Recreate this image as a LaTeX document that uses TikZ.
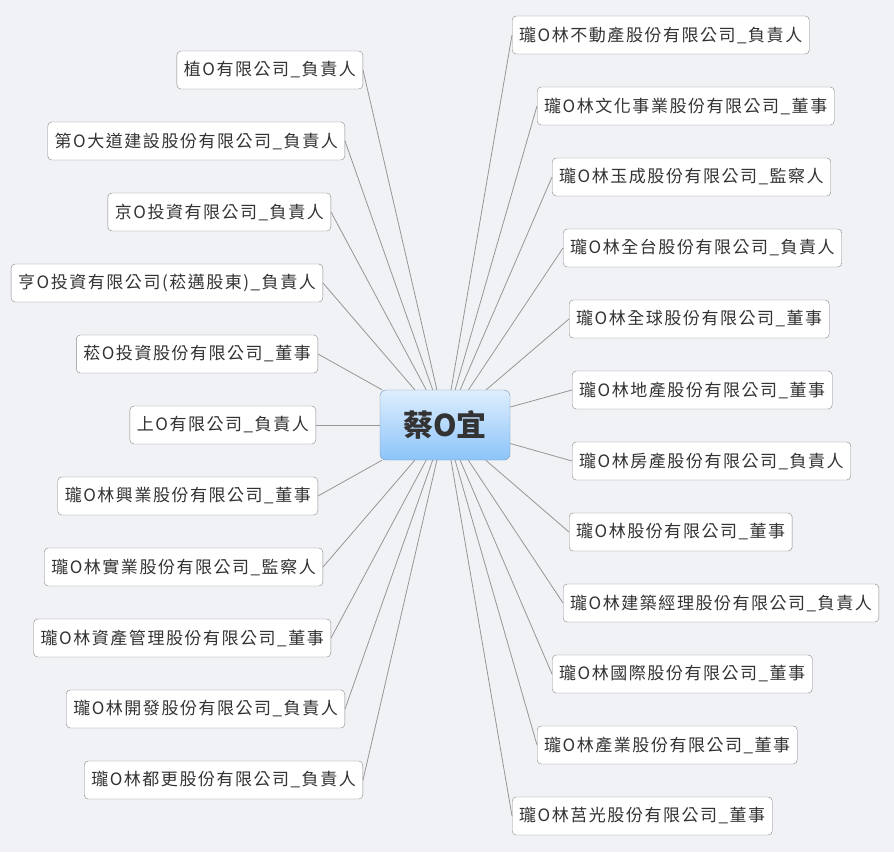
\documentclass[tikz,border=0pt]{standalone}
\usepackage{fontspec}
\setmainfont{Noto Sans CJK TC}
\newfontfamily\boxfont[LetterSpace=9]{Noto Sans CJK TC}
\definecolor{bgcol}{RGB}{240,242,245}
\definecolor{edgecol}{RGB}{150,150,150}
\definecolor{framecol}{RGB}{135,135,135}
\definecolor{txtcol}{RGB}{51,51,51}
\definecolor{topblue}{RGB}{222,238,253}
\definecolor{botblue}{RGB}{140,196,250}
\definecolor{rootframe}{RGB}{120,150,180}
\begin{document}
\begin{tikzpicture}[x=1pt,y=-1pt]
   \tikzset{company/.style = {shape=rectangle,draw=framecol,fill=white,rounded corners=4pt,
      minimum height=38pt,inner xsep=7pt,text=txtcol,font=\boxfont\fontsize{17}{20}\selectfont},
      root/.style = {shape=rectangle,draw=rootframe,rounded corners=6pt,top color=topblue,
      bottom color=botblue,minimum width=130pt,minimum height=70pt,text=txtcol,
      font=\bfseries\fontsize{30}{34}\selectfont},
      link/.style = {draw=edgecol,line width=0.8pt}}
   \fill[bgcol] (0,0) rectangle (894,852);

   \node[root] (c) at (445,425) {蔡O宜};

   % left side
   \node[company,anchor=east] (l1) at (363,70) {植O有限公司\_負責人};
   \node[company,anchor=east] (l2) at (345,141) {第O大道建設股份有限公司\_負責人};
   \node[company,anchor=east] (l3) at (331,212) {京O投資有限公司\_負責人};
   \node[company,anchor=east] (l4) at (323,283) {亨O投資有限公司(菘邁股東)\_負責人};
   \node[company,anchor=east] (l5) at (318,354) {菘O投資股份有限公司\_董事};
   \node[company,anchor=east] (l6) at (316,425) {上O有限公司\_負責人};
   \node[company,anchor=east] (l7) at (318,496) {瓏O林興業股份有限公司\_董事};
   \node[company,anchor=east] (l8) at (323,567) {瓏O林實業股份有限公司\_監察人};
   \node[company,anchor=east] (l9) at (331,638) {瓏O林資產管理股份有限公司\_董事};
   \node[company,anchor=east] (l10) at (345,709) {瓏O林開發股份有限公司\_負責人};
   \node[company,anchor=east] (l11) at (363,780) {瓏O林都更股份有限公司\_負責人};

   % right side
   \node[company,anchor=west] (r1) at (512,35) {瓏O林不動產股份有限公司\_負責人};
   \node[company,anchor=west] (r2) at (537,106) {瓏O林文化事業股份有限公司\_董事};
   \node[company,anchor=west] (r3) at (552,177) {瓏O林玉成股份有限公司\_監察人};
   \node[company,anchor=west] (r4) at (563,248) {瓏O林全台股份有限公司\_負責人};
   \node[company,anchor=west] (r5) at (569,319) {瓏O林全球股份有限公司\_董事};
   \node[company,anchor=west] (r6) at (572,390) {瓏O林地產股份有限公司\_董事};
   \node[company,anchor=west] (r7) at (572,461) {瓏O林房產股份有限公司\_負責人};
   \node[company,anchor=west] (r8) at (569,532) {瓏O林股份有限公司\_董事};
   \node[company,anchor=west] (r9) at (563,603) {瓏O林建築經理股份有限公司\_負責人};
   \node[company,anchor=west] (r10) at (552,674) {瓏O林國際股份有限公司\_董事};
   \node[company,anchor=west] (r11) at (537,745) {瓏O林產業股份有限公司\_董事};
   \node[company,anchor=west] (r12) at (512,816) {瓏O林莒光股份有限公司\_董事};

   \draw[link] (c) -- (l1.east);
   \draw[link] (c) -- (l2.east);
   \draw[link] (c) -- (l3.east);
   \draw[link] (c) -- (l4.east);
   \draw[link] (c) -- (l5.east);
   \draw[link] (c) -- (l6.east);
   \draw[link] (c) -- (l7.east);
   \draw[link] (c) -- (l8.east);
   \draw[link] (c) -- (l9.east);
   \draw[link] (c) -- (l10.east);
   \draw[link] (c) -- (l11.east);
   \draw[link] (c) -- (r1.west);
   \draw[link] (c) -- (r2.west);
   \draw[link] (c) -- (r3.west);
   \draw[link] (c) -- (r4.west);
   \draw[link] (c) -- (r5.west);
   \draw[link] (c) -- (r6.west);
   \draw[link] (c) -- (r7.west);
   \draw[link] (c) -- (r8.west);
   \draw[link] (c) -- (r9.west);
   \draw[link] (c) -- (r10.west);
   \draw[link] (c) -- (r11.west);
   \draw[link] (c) -- (r12.west);
  \end{tikzpicture}
\end{document}
